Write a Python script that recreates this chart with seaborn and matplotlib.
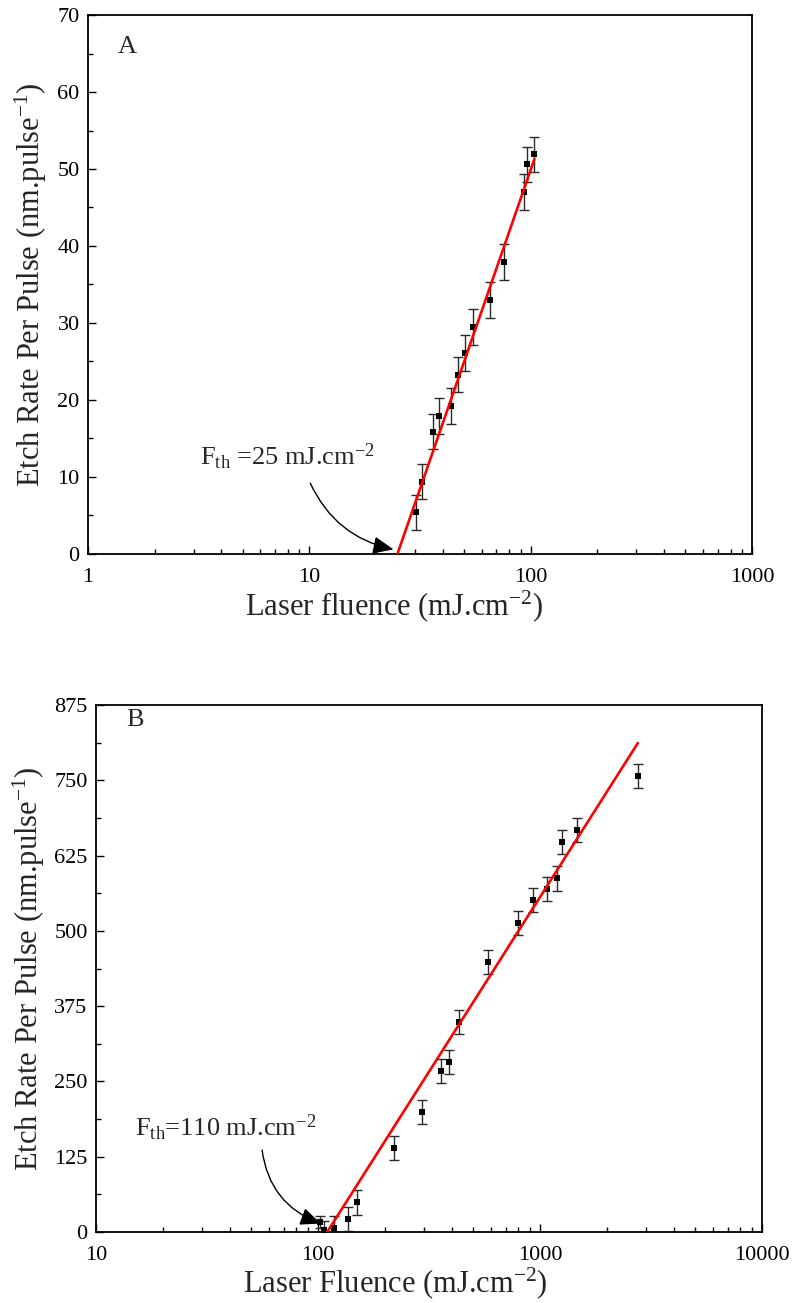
import numpy as np
import pandas as pd
import matplotlib
matplotlib.use("Agg")
import matplotlib.pyplot as plt
from matplotlib.ticker import LogLocator, FixedLocator, MultipleLocator, FuncFormatter, NullFormatter
import seaborn as sns

# ---- Panel A: etch rate vs. laser fluence ----
fluence_a = [30.4, 32.4, 36.3, 38.5, 43.7, 47.1, 50.5, 54.7, 65.7, 75.8, 93.7, 96.0, 104.0]
rate_a = [5.4, 9.4, 15.9, 17.9, 19.2, 23.3, 26.1, 29.5, 33.0, 37.9, 47.0, 50.6, 51.9]
err_a = [2.3] * 13
fit_a_x = [25, 104]
fit_a_y = [0, 51.3]
fth_a = 25

# ---- Panel B ----
fluence_b = [102, 106, 118, 136, 150, 220, 293, 358, 390, 433, 581, 794, 930, 1071, 1193, 1253, 1468, 2761]
rate_b = [17, 3, 6, 22, 49, 139, 199, 268, 282, 348, 448, 513, 551, 569, 587, 647, 667, 757]
err_b = [10, 16, 20, 20, 20, 20, 20, 20, 20, 20, 20, 20, 20, 20, 20, 20, 20, 20]
fit_b_x = [110, 2761]
fit_b_y = [0, 812]
fth_b = 110

sns.set_style("ticks")
plt.rcParams["font.family"] = ["Liberation Serif", "DejaVu Serif"]
plt.rcParams["mathtext.fontset"] = "custom"
plt.rcParams["mathtext.rm"] = "Liberation Serif"
plt.rcParams["mathtext.it"] = "Liberation Serif:italic"
plt.rcParams["mathtext.default"] = "rm"

fig = plt.figure(figsize=(7.95, 13.03), dpi=100)
ax_a = fig.add_axes([88 / 795, 1 - 554 / 1303, 664 / 795, 539 / 1303])
ax_b = fig.add_axes([96 / 795, 1 - 1232 / 1303, 666 / 795, 527 / 1303])

TICK_FS = 16
LABEL_FS = 22
NOTE_FS = 19


def style_axes(ax):
    for s in ax.spines.values():
        s.set_linewidth(1.3)
        s.set_color("black")
    ax.tick_params(which="both", direction="in", top=False, right=False,
                   colors="black", labelsize=TICK_FS, width=1.0)
    ax.tick_params(which="major", length=6)
    ax.tick_params(which="minor", length=3.5)
    ax.tick_params(axis="x", pad=10)
    ax.tick_params(axis="y", pad=6)


def draw_panel(ax, x, y, e, fx, fy, capsize):
    df = pd.DataFrame({"x": x, "y": y})
    ax.errorbar(x, y, yerr=e, fmt="none", ecolor="#2a2a2a", elinewidth=1.0,
                capsize=capsize, capthick=1.0, zorder=2)
    sns.scatterplot(data=df, x="x", y="y", ax=ax, marker="s", color="black",
                    s=18, edgecolor="black", linewidth=0, zorder=3, legend=False)
    fit = pd.DataFrame({"x": fx, "y": fy})
    sns.lineplot(data=fit, x="x", y="y", ax=ax, color="#ff0000", lw=1.9, zorder=4)


dec_fmt = FuncFormatter(lambda v, p: f"{v:g}" if v >= 1 else "")
arrow_kw = dict(arrowstyle="-|>,head_length=0.7,head_width=0.3", color="black", lw=1.0,
                mutation_scale=18, shrinkA=0, shrinkB=0)

# Panel A
draw_panel(ax_a, fluence_a, rate_a, err_a, fit_a_x, fit_a_y, 3.6)
ax_a.set_xscale("log")
ax_a.set_xlim(1, 1000)
ax_a.set_ylim(0, 70)
ax_a.xaxis.set_major_locator(FixedLocator([1, 10, 100, 1000]))
ax_a.xaxis.set_major_formatter(dec_fmt)
ax_a.xaxis.set_minor_locator(LogLocator(base=10, subs=np.arange(2, 10)))
ax_a.xaxis.set_minor_formatter(NullFormatter())
ax_a.yaxis.set_major_locator(MultipleLocator(10))
ax_a.yaxis.set_minor_locator(MultipleLocator(5))
style_axes(ax_a)
ax_a.set_xlabel("Laser fluence (mJ.cm$^{-2}$)", fontsize=LABEL_FS)
ax_a.xaxis.set_label_coords(0.46, -0.097, transform=ax_a.transAxes)
ax_a.xaxis.label.set_va("center")
ax_a.set_ylabel("Etch Rate Per Pulse (nm.pulse$^{-1}$)", fontsize=LABEL_FS, labelpad=6)
ax_a.text(0.045, 0.94, "A", transform=ax_a.transAxes, fontsize=NOTE_FS, ha="left", va="center")
ax_a.text(3.2, 12.6, "F$_{\\rm th}$ =%d mJ.cm$^{-2}$" % fth_a, fontsize=NOTE_FS, ha="left", va="center")
ax_a.annotate("", xy=(24, 0.6), xytext=(10.1, 9.2),
              arrowprops=dict(connectionstyle="arc3,rad=0.25", **arrow_kw))

# Panel B
draw_panel(ax_b, fluence_b, rate_b, err_b, fit_b_x, fit_b_y, 3.6)
ax_b.set_xscale("log")
ax_b.set_xlim(10, 10000)
ax_b.set_ylim(0, 875)
ax_b.xaxis.set_major_locator(FixedLocator([10, 100, 1000, 10000]))
ax_b.xaxis.set_major_formatter(dec_fmt)
ax_b.xaxis.set_minor_locator(LogLocator(base=10, subs=np.arange(2, 10)))
ax_b.xaxis.set_minor_formatter(NullFormatter())
ax_b.yaxis.set_major_locator(MultipleLocator(125))
ax_b.yaxis.set_minor_locator(MultipleLocator(62.5))
style_axes(ax_b)
ax_b.set_xlabel("Laser Fluence (mJ.cm$^{-2}$)", fontsize=LABEL_FS)
ax_b.xaxis.set_label_coords(0.45, -0.097, transform=ax_b.transAxes)
ax_b.xaxis.label.set_va("center")
ax_b.set_ylabel("Etch Rate Per Pulse (nm.pulse$^{-1}$)", fontsize=LABEL_FS, labelpad=5)
ax_b.text(0.045, 0.9715, "B", transform=ax_b.transAxes, fontsize=NOTE_FS, ha="left", va="center")
ax_b.text(15, 173, "F$_{\\rm th}$=%d mJ.cm$^{-2}$" % fth_b, fontsize=NOTE_FS, ha="left", va="center")
ax_b.annotate("", xy=(103, 14), xytext=(56, 136),
              arrowprops=dict(connectionstyle="arc3,rad=0.3", **arrow_kw))

fig.savefig("out.png", dpi=100, facecolor="white")
